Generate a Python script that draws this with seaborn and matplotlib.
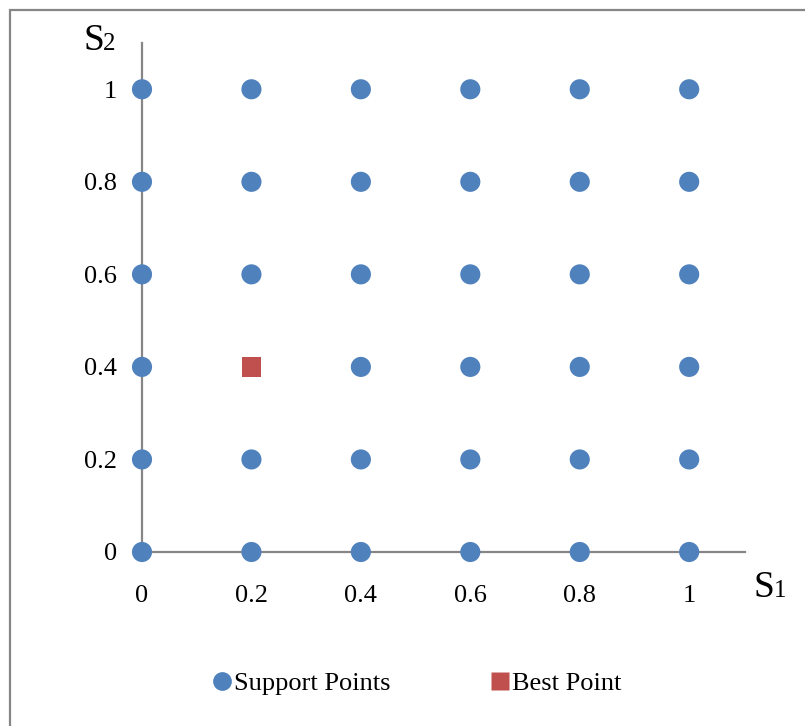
import numpy as np
import pandas as pd
import seaborn as sns
import matplotlib.pyplot as plt
from matplotlib.patches import Rectangle

# grid values on both axes
grid_vals = [0, 0.2, 0.4, 0.6, 0.8, 1]
best_s1 = [0.2]
best_s2 = [0.4]
tick_labels = ['0', '0.2', '0.4', '0.6', '0.8', '1']

BLUE = '#4F81BD'
RED = '#C0504D'
GREY = '#868686'

rows = []
for a in grid_vals:
    for b in grid_vals:
        if (a, b) == (best_s1[0], best_s2[0]):
            continue
        rows.append({'S1': a, 'S2': b, 'kind': 'Support Points'})
support = pd.DataFrame(rows)
best = pd.DataFrame({'S1': best_s1, 'S2': best_s2, 'kind': ['Best Point']})

sns.set_style('white')
plt.rcParams['font.family'] = ['Liberation Serif', 'DejaVu Serif']
plt.rcParams['text.color'] = 'black'

W, H = 805, 726
fig = plt.figure(figsize=(W / 100, H / 100), dpi=100)
ax = fig.add_axes([142 / W, (H - 552) / H, (745 - 142) / W, (552 - 43) / H])

sns.scatterplot(data=support, x='S1', y='S2', ax=ax, color=BLUE, marker='o',
                s=210, edgecolor='none', clip_on=False, zorder=3, legend=False)
sns.scatterplot(data=best, x='S1', y='S2', ax=ax, color=RED, marker='s',
                s=200, edgecolor='none', clip_on=False, zorder=3, legend=False)

ax.set_xlim(0, 1.102)
ax.set_ylim(0, 1.10)
ax.set_xticks(grid_vals)
ax.set_xticklabels(tick_labels)
ax.set_yticks(grid_vals)
ax.set_yticklabels(tick_labels)
ax.tick_params(axis='both', length=0, labelsize=19, labelcolor='black')
ax.tick_params(axis='x', pad=24)
ax.tick_params(axis='y', pad=18)
ax.set_xlabel('')
ax.set_ylabel('')
for side in ['top', 'right']:
    ax.spines[side].set_visible(False)
for side in ['left', 'bottom']:
    ax.spines[side].set_color(GREY)
    ax.spines[side].set_linewidth(1.6)
ax.grid(False)

# axis names: large S with small digit on same baseline
fig.text(83 / W, 1 - 50 / H, 'S', fontsize=27, va='baseline', ha='left', color='black')
fig.text(103 / W, 1 - 50 / H, '2', fontsize=18, va='baseline', ha='left', color='black')
fig.text(753 / W, 1 - 597 / H, 'S', fontsize=27, va='baseline', ha='left', color='black')
fig.text(774 / W, 1 - 597 / H, '1', fontsize=18, va='baseline', ha='left', color='black')

# legend
handles = [
    plt.Line2D([], [], marker='o', linestyle='none', markersize=13.5,
               markerfacecolor=BLUE, markeredgecolor='none', label='Support Points'),
    plt.Line2D([], [], marker='s', linestyle='none', markersize=13.5,
               markerfacecolor=RED, markeredgecolor='none', label='Best Point'),
]
leg = fig.legend(handles=handles, loc='center', bbox_to_anchor=(416 / W, 1 - 683 / H),
                 ncol=2, frameon=False, fontsize=19, handletextpad=0.0,
                 columnspacing=3.7, handlelength=0.9)
for t in leg.get_texts():
    t.set_color('black')

# chart border
fig.patches.append(Rectangle((10 / W, -0.1), 1.2, 1 - 10 / H + 0.1,
                             transform=fig.transFigure, fill=False,
                             edgecolor=GREY, linewidth=1.6))

fig.savefig('out.png', dpi=100)
